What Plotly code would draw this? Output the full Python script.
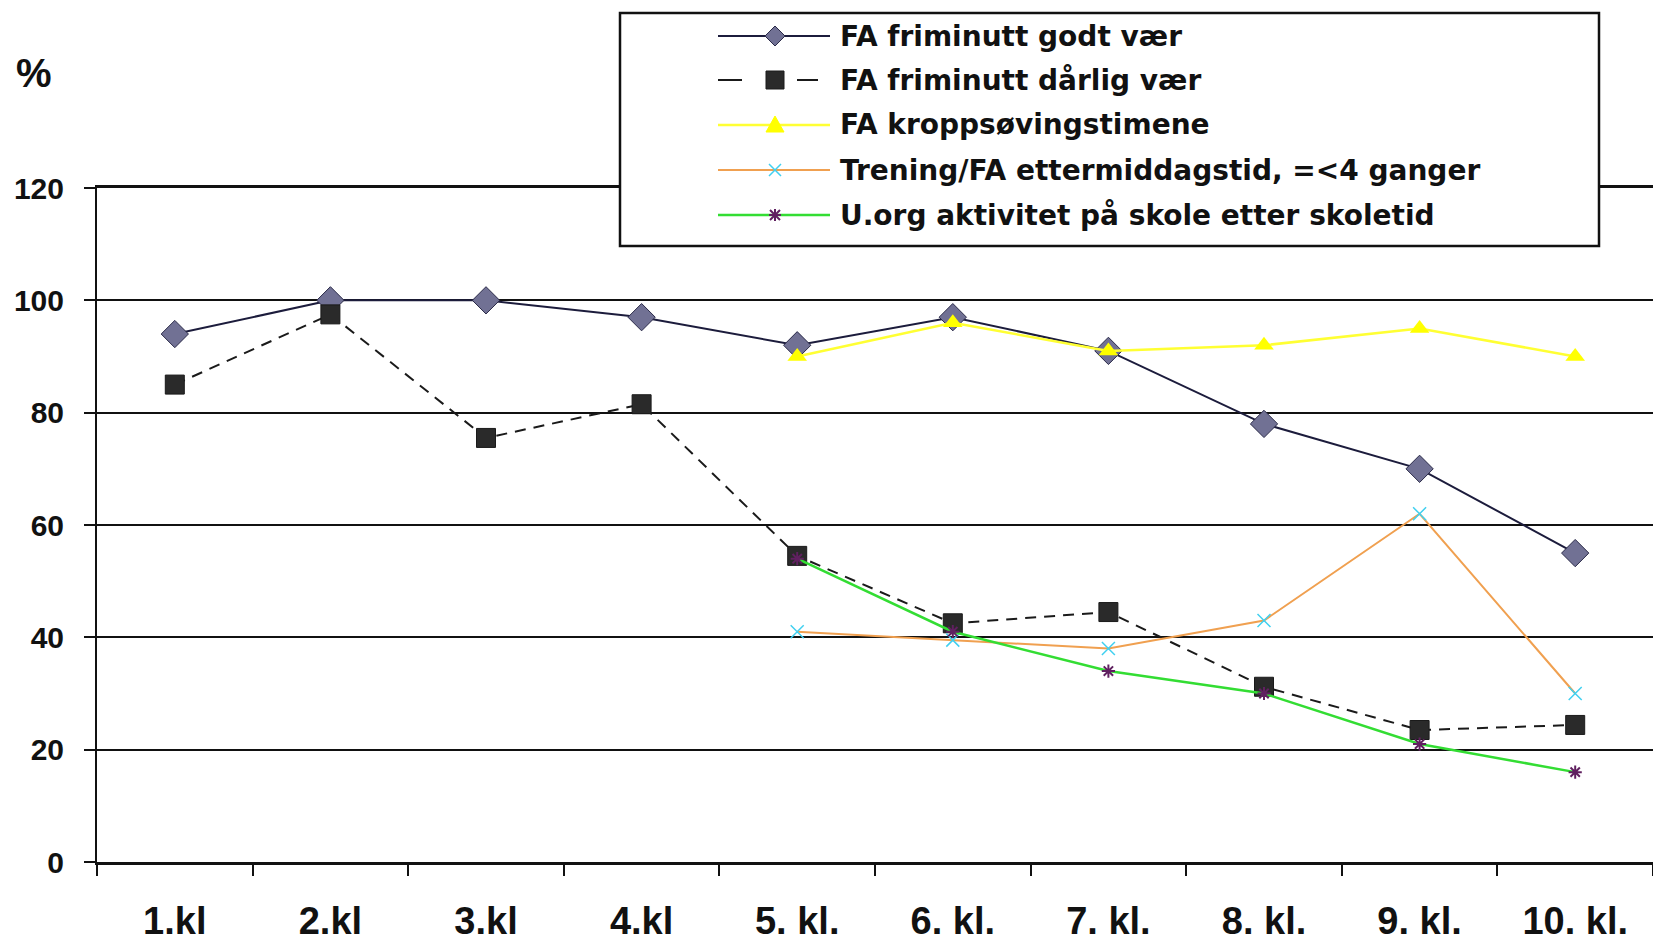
import plotly.graph_objects as go

# ---------------- data ----------------
categories = ["1.kl", "2.kl", "3.kl", "4.kl", "5. kl.", "6. kl.", "7. kl.", "8. kl.", "9. kl.", "10. kl."]
godt_vaer = [94, 100, 100, 97, 92, 97, 91, 78, 70, 55]
darlig_vaer = [85, 97.5, 75.5, 81.5, 54.5, 42.5, 44.5, 31.2, 23.5, 24.4]
kroppsoving = [None, None, None, None, 90, 96, 91, 92, 95, 90]
trening = [None, None, None, None, 41, 39.5, 38, 43, 62, 30]
uorg = [None, None, None, None, 54, 41, 34, 30, 21, 16]
series_names = [
    "FA friminutt godt vær",
    "FA friminutt dårlig vær",
    "FA kroppsøvingstimene",
    "Trening/FA ettermiddagstid, =<4 ganger",
    "U.org aktivitet på skole etter skoletid",
]
y_ticks = [0, 20, 40, 60, 80, 100, 120]

# ---------------- geometry ----------------
W, H = 1653, 941
PL, PR, PT, PB = 97, 1653, 188, 862


def fx(px):
    return (px - PL) / (PR - PL)


def fy(py):
    return (PB - py) / (PB - PT)


TICKFONT = dict(family="Liberation Sans, Arial, sans-serif", color="#111111", weight="bold")

fig = go.Figure()

fig.add_trace(go.Scatter(
    x=categories, y=godt_vaer, name=series_names[0], mode="lines+markers",
    line=dict(color="#1c1c3c", width=2),
    marker=dict(symbol="diamond", size=21, color="#717194", line=dict(color="#2a2a48", width=1)),
))
fig.add_trace(go.Scatter(
    x=categories, y=darlig_vaer, name=series_names[1], mode="lines+markers",
    line=dict(color="#1a1a1a", width=2, dash="11px,8px"),
    marker=dict(symbol="square", size=19, color="#2a2a2a", line=dict(color="#1a1a1a", width=1)),
))
fig.add_trace(go.Scatter(
    x=categories, y=kroppsoving, name=series_names[2], mode="lines+markers",
    line=dict(color="#ffff33", width=2.5),
    marker=dict(symbol="triangle-up", size=17, color="#ffff00"),
))
fig.add_trace(go.Scatter(
    x=categories, y=trening, name=series_names[3], mode="lines+markers",
    line=dict(color="#f0a050", width=2),
    marker=dict(symbol="x-thin-open", size=13, color="#40d0f0", line=dict(color="#40d0f0", width=1.5)),
))
fig.add_trace(go.Scatter(
    x=categories, y=uorg, name=series_names[4], mode="lines+markers",
    line=dict(color="#33dd33", width=2.5),
    marker=dict(symbol="asterisk-open", size=11, color="#602060", line=dict(color="#602060", width=2)),
))

# ---------------- manual legend (decoration) ----------------
shapes = []
annotations = []
LX0, LX1, LY0, LY1 = 620, 1599, 13, 246
shapes.append(dict(type="rect", xref="paper", yref="paper",
                   x0=fx(LX0), x1=fx(LX1), y0=fy(LY1), y1=fy(LY0),
                   fillcolor="white", line=dict(color="#111111", width=2.5), layer="above"))
row_y = [36, 80, 125, 170, 215]
line_x0, line_x1, mark_x, text_x = 718, 830, 775, 838
line_styles = [
    dict(color="#1c1c3c", width=2),
    dict(color="#1a1a1a", width=2),
    dict(color="#ffff33", width=2.5),
    dict(color="#f0a050", width=2),
    dict(color="#33dd33", width=2.5),
]
for i, ry in enumerate(row_y):
    if i == 1:
        for a, b in [(718, 742), (797, 818)]:
            shapes.append(dict(type="line", xref="paper", yref="paper", x0=fx(a), x1=fx(b),
                               y0=fy(ry), y1=fy(ry), line=line_styles[i], layer="above"))
    else:
        shapes.append(dict(type="line", xref="paper", yref="paper", x0=fx(line_x0), x1=fx(line_x1),
                           y0=fy(ry), y1=fy(ry), line=line_styles[i], layer="above"))
    annotations.append(dict(xref="paper", yref="paper", x=fx(text_x), y=fy(ry), text=series_names[i],
                            showarrow=False, xanchor="left", yanchor="middle",
                            font=dict(family="DejaVu Sans, sans-serif", size=28, color="#111111", weight="bold")))

glyphs = [
    ("M0,-10 L10,0 L0,10 L-10,0 Z", "#717194", dict(color="#2a2a48", width=1)),
    ("M-9,-9 L9,-9 L9,9 L-9,9 Z", "#2a2a2a", dict(color="#1a1a1a", width=1)),
    ("M0,9 L9,-7 L-9,-7 Z", "#ffff00", dict(color="#ffff00", width=1)),
    ("M-6,-6 L6,6 M-6,6 L6,-6", "rgba(0,0,0,0)", dict(color="#40d0f0", width=1.5)),
    ("M-5,-5 L5,5 M-5,5 L5,-5 M0,-6 L0,6 M-6,0 L6,0", "rgba(0,0,0,0)", dict(color="#602060", width=2)),
]
for i, (path, fill, ln) in enumerate(glyphs):
    shapes.append(dict(type="path", xref="paper", yref="paper", xsizemode="pixel", ysizemode="pixel",
                       xanchor=fx(mark_x), yanchor=fy(row_y[i]), path=path,
                       fillcolor=fill, line=ln, layer="above"))

annotations.append(dict(xref="paper", yref="paper", x=fx(34), y=fy(73), text="%", showarrow=False,
                        xanchor="center", yanchor="middle",
                        font=dict(family="Liberation Sans, Arial, sans-serif", size=40, color="#111111", weight="bold")))

fig.update_layout(
    width=W, height=H,
    margin=dict(l=PL, r=W - PR, t=PT, b=H - PB, pad=0, autoexpand=False),
    paper_bgcolor="white", plot_bgcolor="white",
    showlegend=False,
    shapes=shapes,
    annotations=annotations,
    xaxis=dict(
        type="category", categoryorder="array", categoryarray=categories,
        range=[-0.5, len(categories) - 0.5], automargin=False,
        showline=True, linecolor="#111111", linewidth=3, mirror=True,
        ticks="outside", tickson="boundaries", ticklen=11, tickwidth=2, tickcolor="#111111",
        showgrid=False, zeroline=False,
        tickfont=dict(size=38, **TICKFONT), ticklabelstandoff=23,
    ),
    yaxis=dict(
        range=[0, 120], tickvals=y_ticks, ticktext=[str(v) for v in y_ticks], automargin=False,
        showline=True, linecolor="#111111", linewidth=2,
        ticks="outside", ticklen=11, tickwidth=2, tickcolor="#111111",
        showgrid=True, gridcolor="#111111", gridwidth=2,
        zeroline=False,
        tickfont=dict(size=30, **TICKFONT), ticklabelstandoff=14,
    ),
)

fig.write_html(
    "out.html",
    config={"displayModeBar": False},
    post_script="document.body.style.margin='0';document.body.style.overflow='hidden';",
)
